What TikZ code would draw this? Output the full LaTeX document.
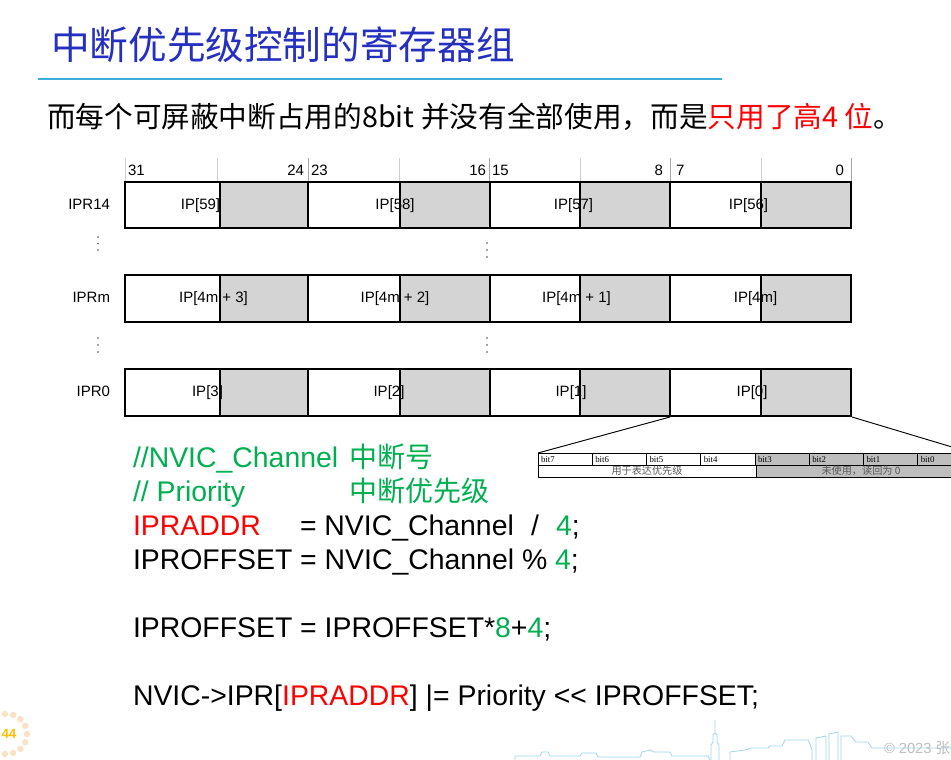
\documentclass[tikz,border=0pt]{standalone}
\usepackage{fontspec}
\setmainfont{Liberation Sans}
\newfontfamily\cjk{Noto Sans CJK SC}
\newfontfamily\serifcjk{Noto Sans CJK SC}
\newfontfamily\tnr{Liberation Serif}
\definecolor{titleblue}{RGB}{38,48,192}
\definecolor{rulecyan}{RGB}{59,175,218}
\definecolor{codegreen}{RGB}{0,176,80}
\definecolor{codered}{RGB}{255,0,0}
\definecolor{cellgray}{RGB}{212,212,212}
\definecolor{bitgray}{RGB}{190,190,190}
\definecolor{tickgray}{RGB}{205,205,205}
\definecolor{pagedot}{RGB}{250,226,196}
\definecolor{pageorange}{RGB}{255,192,0}
\definecolor{skyblue}{RGB}{160,212,238}
\definecolor{wmgray}{RGB}{190,190,190}
\tikzset{
  txt/.style={inner sep=0pt, outer sep=0pt},
  regfont/.style={txt, font=\fontsize{11.25}{13}\selectfont},
  codefont/.style={txt, anchor=base west, font=\fontsize{21.3}{25}\selectfont},
  cellline/.style={draw=black, line width=1.1pt},
  tick/.style={draw=tickgray, line width=0.6pt},
  vdot/.style={fill=black!70, draw=none},
  bitcell/.style={draw=black, line width=0.4pt},
  bitfont/.style={txt, anchor=base west, font=\tnr\fontsize{6.6}{8}\selectfont},
  bitcjk/.style={txt, font=\serifcjk\fontsize{7.6}{9}\selectfont, text=black!65},
  zoomline/.style={draw=black, line width=0.7pt},
}
\begin{document}
\begin{tikzpicture}[x=0.75pt,y=-0.75pt]
\useasboundingbox (0,0) rectangle (951,760);
\clip (0,0) rectangle (951,760);
\fill[white] (0,0) rectangle (951,760);

% title
\node[txt, anchor=base west, text=titleblue, font=\cjk\fontsize{29}{34}\selectfont] (title) at (51,59) {中断优先级控制的寄存器组};
\draw[rulecyan, line width=1.6pt] (38,79) -- (722,79);

% subtitle
\node[txt, anchor=base west, font=\cjk\fontsize{21.5}{26}\selectfont] (sub) at (47,127)
  {而每个可屏蔽中断占用的8bit 并没有全部使用，而是\textcolor{codered}{只用了高4 位}。};

% bit number ticks
\foreach \x in {125,217,399,580,761} \draw[tick] (\x,158) -- (\x,182);
\foreach \x in {308,489,670,851} \draw[tick, draw=black!35] (\x,158) -- (\x,182);
\node[regfont, anchor=base west] (n31) at (128,175) {31};
\node[regfont, anchor=base east] (n24) at (304,175) {24};
\node[regfont, anchor=base west] (n23) at (311,175) {23};
\node[regfont, anchor=base east] (n16) at (486,175) {16};
\node[regfont, anchor=base west] (n15) at (492,175) {15};
\node[regfont, anchor=base east] (n8) at (663,175) {8};
\node[regfont, anchor=base west] (n7) at (676,175) {7};
\node[regfont, anchor=base east] (n0) at (844,175) {0};

% register rows
\foreach \yt/\yb in {182/228, 275/322, 369/416}{
  \foreach \xa/\xg/\xb in {125/220/308, 308/400/490, 490/580/670, 670/761/851}{
    \filldraw[cellline, fill=white] (\xa,\yt) rectangle (\xb,\yb);
    \filldraw[cellline, fill=cellgray] (\xg,\yt) rectangle (\xb,\yb);
  }
}
% row labels
\node[regfont, anchor=base east] (l14) at (110,209.5) {IPR14};
\node[regfont, anchor=base east] (lm) at (110,302.5) {IPRm};
\node[regfont, anchor=base east] (l0) at (110,396.5) {IPR0};

% cell texts
\tikzset{iptext/.style={regfont, anchor=base}}
\node[iptext] (ip59) at (200.5,209.5) {IP[59]};
\node[iptext] (ip58) at (395,209.5) {IP[58]};
\node[iptext] (ip57) at (573.5,209.5) {IP[57]};
\node[iptext] (ip56) at (748.5,209.5) {IP[56]};
\node[iptext] (ipm3) at (213.5,302.5) {IP[4m + 3]};
\node[iptext] (ipm2) at (395,302.5) {IP[4m + 2]};
\node[iptext] (ipm1) at (576.5,302.5) {IP[4m + 1]};
\node[iptext] (ipm0) at (755.5,302.5) {IP[4m]};
\node[iptext] (ip3) at (207.5,396.5) {IP[3]};
\node[iptext] (ip2) at (389,396.5) {IP[2]};
\node[iptext] (ip1) at (571,396.5) {IP[1]};
\node[iptext] (ip0) at (752,396.5) {IP[0]};

% vertical dots
\foreach \x/\y in {98/237, 98/243.5, 98/250, 487/243, 487/250, 487/257,
                   98/338, 98/345, 98/352, 487/338, 487/345, 487/352}
  \fill[vdot] (\x,\y) circle (0.9);

% zoom lines
\coordinate (ip0bl) at (670,417);
\coordinate (ip0br) at (852,417);
\coordinate (btl) at (538,453);
\coordinate (btr) at (972,453);
\draw[zoomline] (ip0bl) -- (btl);
\draw[zoomline] (ip0br) -- (btr);

% bit table
\fill[bitgray] (756,453) rectangle (972,477);
\draw[bitcell] (538,453) rectangle (972,477);
\draw[bitcell] (538,465) -- (972,465);
\foreach \i in {1,...,7} \draw[bitcell] ({538+54.25*\i},453) -- ({538+54.25*\i},465);
\draw[bitcell] (756,465) -- (756,477);
\foreach \i/\b in {0/7,1/6,2/5,3/4,4/3,5/2,6/1,7/0}
  \node[bitfont] (bit\b) at ({541+54.25*\i},462.5) {bit\b};
\node[bitcjk] (use) at (647,471) {用于表达优先级};
\node[bitcjk] (unused) at (861,471) {未使用，读回为 0};

% code
\node[codefont, text=codegreen] (c1) at (133,467) {//NVIC\_Channel};
\node[codefont, text=codegreen, font=\cjk\fontsize{21}{25}\selectfont] (c1b) at (349,467) {中断号};
\node[codefont, text=codegreen] (c2) at (133,501) {// Priority};
\node[codefont, text=codegreen, font=\cjk\fontsize{21}{25}\selectfont] (c2b) at (349,501) {中断优先级};
\node[codefont, text=codered] (c3) at (133,535) {IPRADDR};
\node[codefont] (c3b) at (300,535) {= NVIC\_Channel};
\node[codefont] (c3c) at (531,535) {/};
\node[codefont] (c3d) at (556,535) {\textcolor{codegreen}{4};};
\node[codefont] (c4) at (133,569) {IPROFFSET = NVIC\_Channel \% \textcolor{codegreen}{4};};
\node[codefont] (c5) at (133,637) {IPROFFSET = IPROFFSET*\textcolor{codegreen}{8}+\textcolor{codegreen}{4};};
\node[codefont] (c6) at (133,705) {NVIC-{}>IPR[\textcolor{codered}{IPRADDR}] |= Priority <{}< IPROFFSET;};

% page number decoration
\foreach \a in {0,24,...,359}
  \fill[pagedot] ({7+20*cos(\a)},{734-20*sin(\a)}) circle (3.2);
\node[txt, text=pageorange, font=\bfseries\fontsize{10}{12}\selectfont] (pg) at (9,734) {44};

% skyline
\draw[skyblue, line width=0.6pt]
  (515,760) -- (515,756) -- (540,756) -- (542,752) -- (548,752) -- (550,756) -- (580,756)
  -- (582,753) -- (596,753) -- (598,757) -- (640,757) -- (642,752) -- (650,750) -- (654,752)
  -- (670,752) -- (672,756) -- (708,756) -- (710,760);
\draw[skyblue, line width=0.6pt]
  (711,760) -- (711,745) -- (713,742) -- (713,735) -- (715,733) -- (715,720)
  (715,733) -- (717,735) -- (717,742) -- (719,745) -- (719,760);
\draw[skyblue, line width=0.6pt]
  (730,760) -- (730,752) -- (745,750) -- (752,748) -- (768,748) -- (770,746) -- (782,746)
  -- (785,740) -- (808,740) -- (810,744) -- (812,750) -- (812,760)
  (816,760) -- (816,738) -- (826,736) -- (826,760)
  (829,760) -- (829,734) -- (838,732) -- (838,760)
  (841,760) -- (841,736) -- (851,736) -- (856,742) -- (868,742) -- (872,748) -- (951,748);
\node[txt, anchor=base west, text=wmgray, font=\fontsize{11}{13}\selectfont] (wm) at (884,753) {© 2023 \cjk 张};
\end{tikzpicture}
\end{document}
